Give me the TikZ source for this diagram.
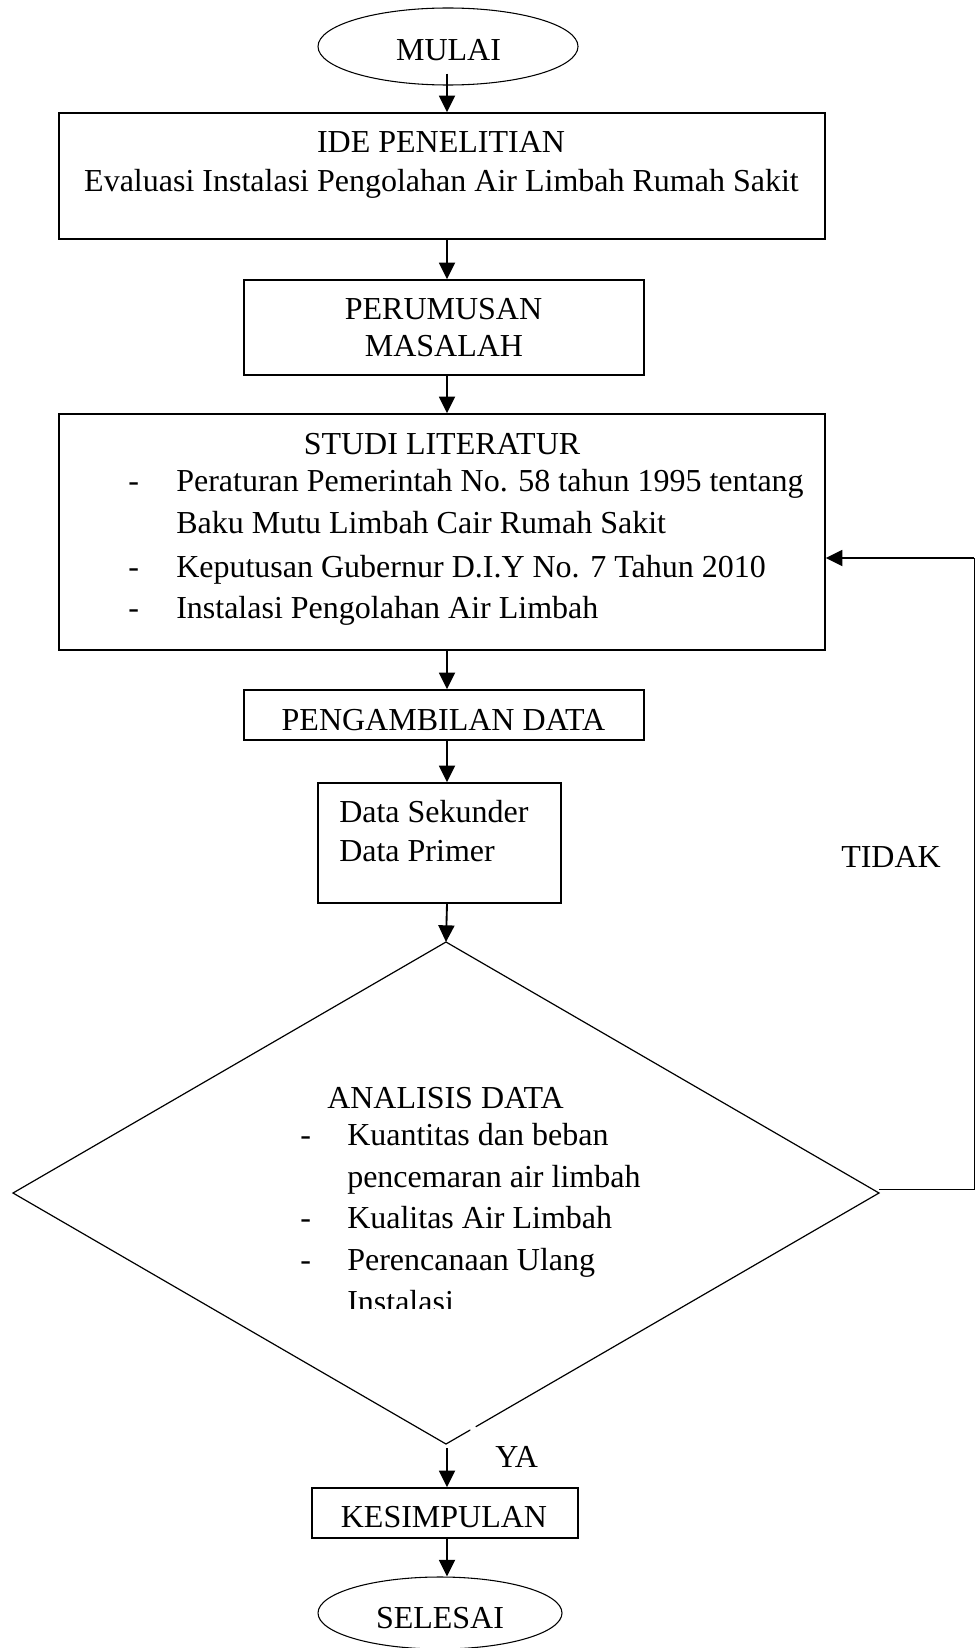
\documentclass[tikz,border=0pt]{standalone}
\usepackage{fontspec}
\setmainfont{Liberation Serif}
\usetikzlibrary{arrows.meta,shapes.geometric}
\begin{document}
\begin{tikzpicture}[x=0.75pt,y=-0.75pt,
  every node/.style={font=\fontsize{24pt}{29pt}\selectfont},
  box/.style={draw,rectangle,line width=1.1pt,inner sep=0pt},
  term/.style={draw,ellipse,line width=0.8pt,inner sep=0pt},
  txt/.style={inner sep=0pt,anchor=base},
  txtl/.style={inner sep=0pt,anchor=base west},
  arr/.style={line width=1.4pt,-{Triangle[length=12.5pt,width=12pt]}},
  thin/.style={line width=0.7pt},
  diam/.style={line width=0.9pt,line cap=round}]
\useasboundingbox (0,0) rectangle (975,1648);
\coordinate (ax) at (447,0);
% terminals
\node[term,minimum width=195pt,minimum height=57.75pt] (mulai) at (448,46.5) {};
\node[txt] (tmulai) at (448.5,61) {MULAI};
\node[term,minimum width=183pt,minimum height=54pt] (selesai) at (440,1613) {};
\node[txt] (tselesai) at (440,1628) {SELESAI};
% boxes
\node[box,minimum width=574.5pt,minimum height=94.5pt] (ide) at (442,176) {};
\node[txt] (tide1) at (441,153) {IDE PENELITIAN};
\node[txt] (tide2) at (441.5,191) {Evaluasi Instalasi Pengolahan Air Limbah Rumah Sakit};
\node[box,minimum width=300pt,minimum height=71.25pt] (per) at (444,327.5) {};
\node[txt] (tper1) at (443.5,319) {PERUMUSAN};
\node[txt] (tper2) at (444,356) {MASALAH};
\node[box,minimum width=574.5pt,minimum height=177pt] (studi) at (442,532) {};
\node[txt] (tstudi) at (442,454) {STUDI LITERATUR};
\node[txtl] (sd1) at (128,491) {-};
\node[txtl] (sl1) at (176,491) {Peraturan Pemerintah No. 58 tahun 1995 tentang};
\node[txtl] (sl2) at (176,533) {Baku Mutu Limbah Cair Rumah Sakit};
\node[txtl] (sd3) at (128,577) {-};
\node[txtl] (sl3) at (176,577) {Keputusan Gubernur D.I.Y No. 7 Tahun 2010};
\node[txtl] (sd4) at (128,618) {-};
\node[txtl] (sl4) at (176,618) {Instalasi Pengolahan Air Limbah};
\node[box,minimum width=300pt,minimum height=37.5pt] (peng) at (444,715) {};
\node[txt] (tpeng) at (443.5,730) {PENGAMBILAN DATA};
\node[box,minimum width=182.25pt,minimum height=90pt] (data) at (439.5,843) {};
\node[txtl] (tdata1) at (339,822) {Data Sekunder};
\node[txtl] (tdata2) at (339,861) {Data Primer};
\node[box,minimum width=199.5pt,minimum height=37.5pt] (kes) at (445,1513) {};
\node[txt] (tkes) at (444,1527) {KESIMPULAN};
% decision
\coordinate (dtop) at (446,942);
\coordinate (dright) at (879,1193);
\coordinate (dbot) at (446,1444);
\coordinate (dleft) at (13,1193);
\coordinate (gapa) at (470,1430.1);
\coordinate (gapb) at (476,1426.6);
\draw[diam] (gapb) -- (dright) -- (dtop) -- (dleft) -- (dbot) -- (gapa);
\node[txtl] (tana) at (327,1108) {ANALISIS DATA};
\node[txtl] (ad1) at (300,1145) {-};
\node[txtl] (al1) at (347,1145) {Kuantitas dan beban};
\node[txtl] (al2) at (347,1187) {pencemaran air limbah};
\node[txtl] (ad3) at (300,1228) {-};
\node[txtl] (al3) at (347,1228) {Kualitas Air Limbah};
\node[txtl] (ad4) at (300,1270) {-};
\node[txtl] (al4) at (347,1270) {Perencanaan Ulang};
\begin{scope}
\clip (300,1240) rectangle (700,1308);
\node[txtl] (al5) at (347,1312) {Instalasi};
\end{scope}
\node[txtl] (ttidak) at (841,867) {TIDAK};
\node[txtl] (tya) at (495,1467) {YA};
% connectors
\draw[arr] ([yshift=9pt]mulai.south -| ax) -- (ax |- ide.north);
\draw[arr] (ax |- ide.south) -- (ax |- per.north);
\draw[arr] (ax |- per.south) -- (ax |- studi.north);
\draw[arr] (ax |- studi.south) -- (ax |- peng.north);
\draw[arr] (ax |- peng.south) -- (ax |- data.north);
\draw[arr] (ax |- data.south) -- (dtop);
\draw[arr] ([yshift=-3pt]ax |- dbot) -- (ax |- kes.north);
\draw[arr] (ax |- kes.south) -- (ax |- selesai.north);
% feedback
\coordinate (fbbot) at (974,1189);
\coordinate (fbtop) at (974,558);
\draw[thin] (dright |- fbbot) -- (fbbot) -- (fbtop);
\draw[arr] (fbtop) -- (studi.east |- fbtop);
\end{tikzpicture}
\end{document}
